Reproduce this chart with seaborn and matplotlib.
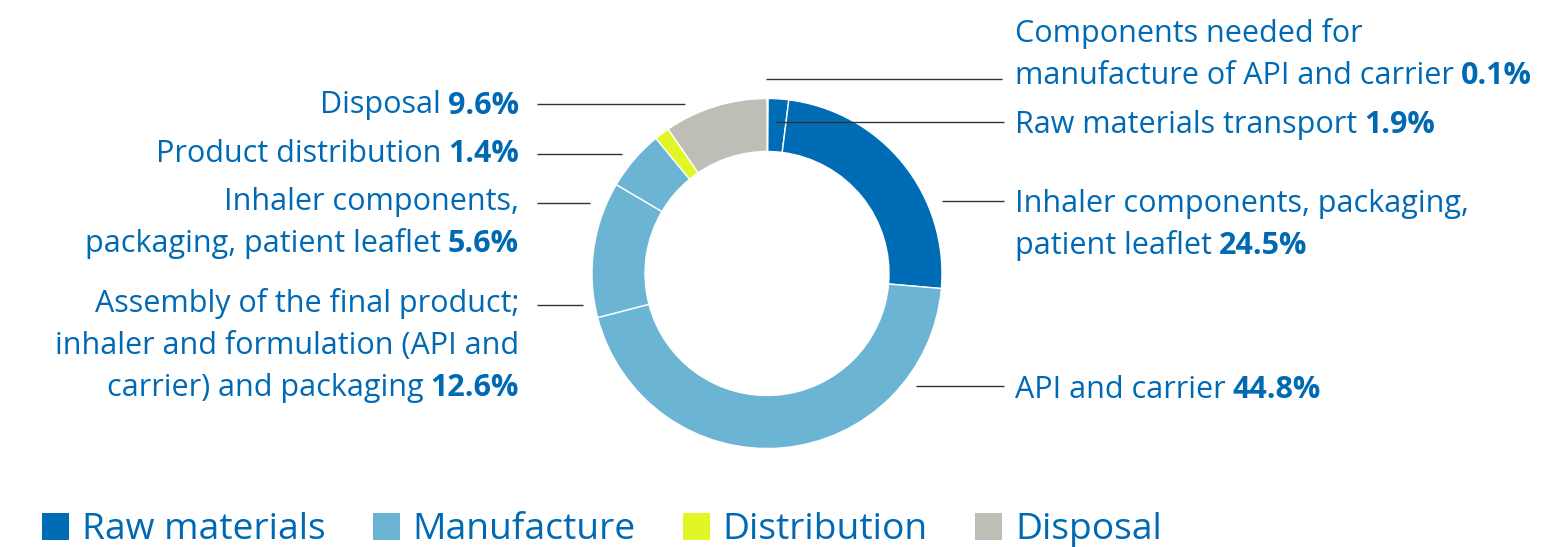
import matplotlib
matplotlib.use("Agg")
import matplotlib.pyplot as plt
import seaborn as sns
from matplotlib.patches import Rectangle

# -------------------------------
# Data
# -------------------------------
segments = [
    "Components needed for manufacture of API and carrier",
    "Raw materials transport",
    "Inhaler components, packaging, patient leaflet",
    "API and carrier",
    "Assembly of the final product; inhaler and formulation (API and carrier) and packaging",
    "Inhaler components, packaging, patient leaflet",
    "Product distribution",
    "Disposal",
]
shares = [0.1, 1.9, 24.5, 44.8, 12.6, 5.6, 1.4, 9.6]
stages = ["Raw materials", "Raw materials", "Raw materials",
          "Manufacture", "Manufacture", "Manufacture",
          "Distribution", "Disposal"]
stage_names = ["Raw materials", "Manufacture", "Distribution", "Disposal"]
stage_colors = ["#006cb5", "#6bb4d3", "#e2f526", "#bebeb6"]

# how each label is broken into lines
label_lines = [
    ["Components needed for", "manufacture of API and carrier"],
    ["Raw materials transport"],
    ["Inhaler components, packaging,", "patient leaflet"],
    ["API and carrier"],
    ["Assembly of the final product;", "inhaler and formulation (API and", "carrier) and packaging"],
    ["Inhaler components,", "packaging, patient leaflet"],
    ["Product distribution"],
    ["Disposal"],
]

# layout (pixels from top-left): side, first baseline, leader y, leader x0, leader x1
label_layout = [
    ("right", 41.7, 79, 766, 1002),
    ("right", 133.3, 122, 776, 1004),
    ("right", 212.3, 200.5, 942, 1004),
    ("right", 397.5, 386, 916, 1004),
    ("left", 312, 305, 537, 583),
    ("left", 210, 203, 537, 590),
    ("left", 162, 154, 537, 622),
    ("left", 113.5, 104, 537, 685),
]

W, H = 1562, 547
TEXT = "#0069b4"
LINE = "#333333"

sns.set_theme(style="white")
plt.rcParams['font.family'] = ['Open Sans', 'DejaVu Sans']

fig = plt.figure(figsize=(W / 100, H / 100), dpi=100)
ax = fig.add_axes([0, 0, 1, 1])

palette = dict(zip(stage_names, stage_colors))
colors = [palette[s] for s in stages]

cx, cy, R, ring = 767, 273.5, 175, 53
ax.pie(shares, colors=colors, startangle=90, counterclock=False,
       center=(cx, H - cy), radius=R,
       wedgeprops=dict(width=ring, edgecolor="white", linewidth=1.0))
ax.set_xlim(0, W)
ax.set_ylim(0, H)
ax.set_aspect("auto")
ax.axis("off")

renderer = fig.canvas.get_renderer()
FS = 22.0
LH = 42
GAP = 7


def width_of(t):
    return t.get_window_extent(renderer=renderer).width


# -------------------------------
# Labels with leader lines
# -------------------------------
for lines, val, (side, y0, ly, lx0, lx1) in zip(label_lines, shares, label_layout):
    ax.plot([lx0, lx1], [H - ly, H - ly], color=LINE, lw=1.0, solid_capstyle="butt")
    pct = f"{val:.1f}%"
    for i, line in enumerate(lines):
        yb = H - (y0 + i * LH)
        last = i == len(lines) - 1
        if side == "right":
            t = ax.text(1015, yb, line, ha="left", va="baseline", fontsize=FS, color=TEXT)
            if last:
                ax.text(1015 + width_of(t) + GAP, yb, pct, ha="left", va="baseline",
                        fontsize=FS, color=TEXT, fontweight="bold")
        else:
            xr = 519
            if last:
                b = ax.text(xr, yb, pct, ha="right", va="baseline",
                            fontsize=FS, color=TEXT, fontweight="bold")
                xr = xr - width_of(b) - GAP
            ax.text(xr, yb, line, ha="right", va="baseline", fontsize=FS, color=TEXT)

# -------------------------------
# Legend
# -------------------------------
x = 42
for name, col in zip(stage_names, stage_colors):
    ax.add_patch(Rectangle((x, H - 540), 27, 27, color=col, lw=0))
    t = ax.text(x + 40, H - 539.3, name, ha="left", va="baseline", fontsize=26.8, color=TEXT)
    x = x + 40 + width_of(t) + 47

fig.savefig("out.png", dpi=100)
